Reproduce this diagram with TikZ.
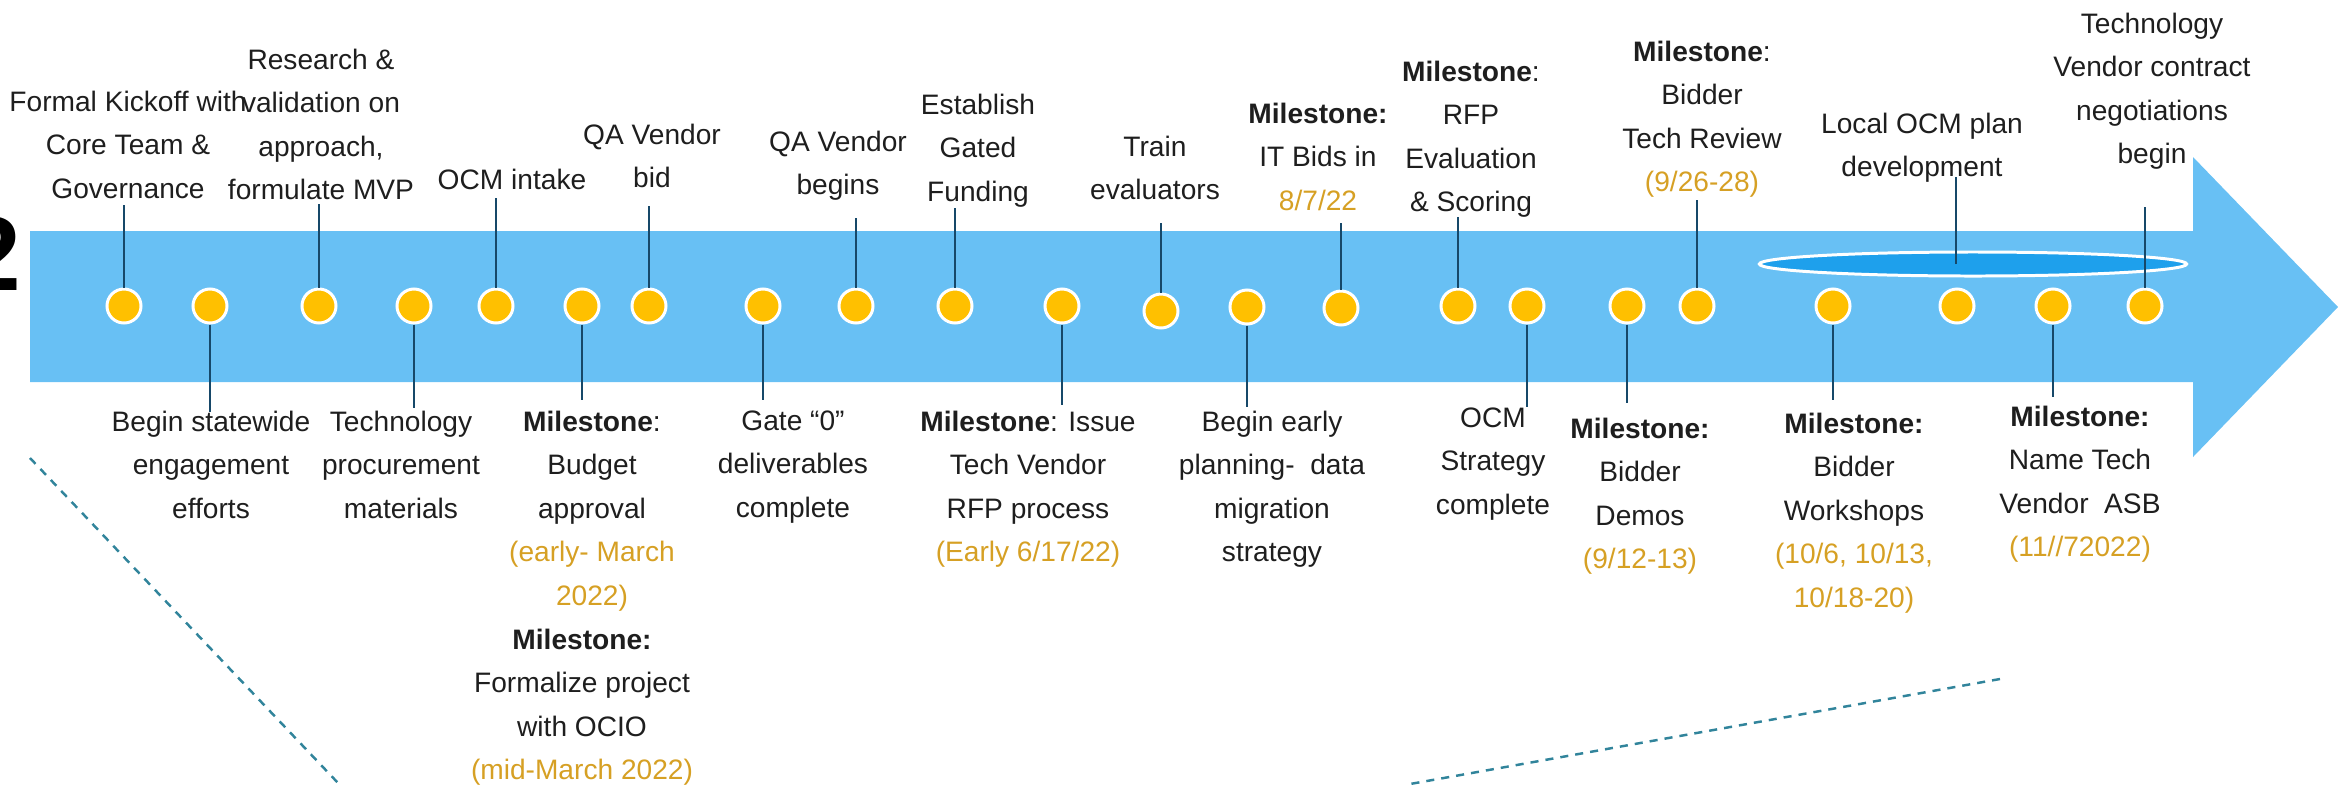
\documentclass[tikz,border=0pt]{standalone}
\usepackage{fontspec}
\setmainfont{Liberation Sans}
\usetikzlibrary{shapes.geometric}
\definecolor{bandblue}{RGB}{104,192,244}
\definecolor{ocmblue}{RGB}{30,160,236}
\definecolor{dotgold}{RGB}{255,192,0}
\definecolor{stemblue}{RGB}{22,72,105}
\definecolor{dategold}{RGB}{214,160,36}
\definecolor{zoomteal}{RGB}{49,132,155}
\definecolor{inkgray}{RGB}{30,30,30}
\tikzset{
  tickdot/.style={circle, fill=dotgold, draw=white, line width=0.85pt, minimum size=0.34cm, inner sep=0pt},
  stem/.style={draw=stemblue, line width=0.6pt},
  lbl/.style={anchor=north, align=center, inner sep=0pt, text=inkgray, font=\fontsize{8pt}{12.38pt}\selectfont},
  zoomline/.style={draw=zoomteal, line width=0.7pt, dash pattern=on 2.3pt off 2pt}
}
\newcommand{\dte}[1]{\textcolor{dategold}{#1}}
\newcommand{\ms}{\textbf{Milestone}}
\begin{document}
\begin{tikzpicture}[x=0.01cm, y=-0.01cm]
        \useasboundingbox (0,0) rectangle (2338,784);
        \clip (0,0) rectangle (2338,784);
        %% year, cut off at the left
        \node[anchor=base east, inner sep=0pt, font=\fontsize{30pt}{30pt}\selectfont\bfseries] (yr) at (22,290) {2};
        %% band and arrow head
        \fill[bandblue] (30,231) -- (2193,231) -- (2193,157) -- (2338,307) -- (2193,457) -- (2193,382) -- (30,382) -- cycle;
        \node[ellipse, fill=ocmblue, draw=white, line width=0.85pt, minimum width=4.27cm, minimum height=0.24cm, inner sep=0pt] (ocm) at (1973,264) {};
        %% zoom lines
        \draw[zoomline] (30,458) -- (339,784);
        \draw[zoomline] (2000,679) -- (1410,784);
        %% dots
        \foreach \n/\x/\y in {1/124/306, 2/210/306, 3/319/306, 4/414/306, 5/496/306, 6/582/306,
                7/649/306, 8/763/306, 9/856/306, 10/955/306, 11/1062/306, 12/1161/311,
                13/1247/307, 14/1341/308, 15/1458/306, 16/1527/306, 17/1627/306, 18/1697/306,
                19/1833/306, 20/1957/306, 21/2053/306, 22/2145/306}
            \node[tickdot] (d\n) at (\x,\y) {};
        %% connectors
        \foreach \n/\y in {1/205, 2/412, 3/204, 4/408, 5/198, 6/400, 7/206, 8/400, 9/218, 10/208,
                11/405, 12/223, 13/407, 14/223, 15/217, 16/407, 17/403, 18/200, 19/400, 21/397, 22/207} {
            \coordinate (e\n) at (d\n |- 0,\y);
            \draw[stem] (d\n) -- (e\n);
        }
        \coordinate (e20) at (1956,177);
        \draw[stem] (e20 |- ocm.center) -- (e20);
        %% labels above
        \node[lbl] (t1) at (128,90) {Formal Kickoff with\\Core Team \&\\Governance};
        \node[lbl] (t3) at (321,48) {Research \&\\validation on\\approach,\\formulate MVP};
        \node[lbl] (t5) at (512,168) {OCM intake};
        \node[lbl] (t7) at (652,123) {QA Vendor\\bid};
        \node[lbl] (t9) at (838,130) {QA Vendor\\begins};
        \node[lbl] (t10) at (978,93) {Establish\\Gated\\Funding};
        \node[lbl] (t12) at (1155,135) {Train\\evaluators};
        \node[lbl] (t14) at (1318,102) {\textbf{Milestone:}\\IT Bids in\\\dte{8/7/22}};
        \node[lbl] (t15) at (1471,60) {\ms:\\RFP\\Evaluation\\\& Scoring};
        \node[lbl] (t18) at (1702,40) {\ms:\\Bidder\\Tech Review\\\dte{(9/26-28)}};
        \node[lbl] (t20) at (1922,112) {Local OCM plan\\development};
        \node[lbl] (t22) at (2152,12) {Technology\\Vendor contract\\negotiations\\begin};
        %% labels below
        \node[lbl] (t2) at (211,410) {Begin statewide\\engagement\\efforts};
        \node[lbl] (t4) at (401,410) {Technology\\procurement\\materials};
        \node[lbl] (t6) at (592,410) {\ms:\\Budget\\approval\\\dte{(early- March}\\\dte{2022)}};
        \node[lbl] (t6b) at (582,628) {\textbf{Milestone:}\\Formalize project\\with OCIO\\\dte{(mid-March 2022)}};
        \node[lbl] (t8) at (793,410) {Gate “0”\\deliverables\\complete};
        \node[lbl] (t11) at (1028,410) {\ms: Issue\\Tech Vendor\\RFP process\\\dte{(Early 6/17/22)}};
        \node[lbl] (t13) at (1272,410) {Begin early\\planning-~ data\\migration\\strategy};
        \node[lbl] (t16) at (1493,407) {OCM\\Strategy\\complete};
        \node[lbl] (t17) at (1640,417) {\textbf{Milestone:}\\Bidder\\Demos\\\dte{(9/12-13)}};
        \node[lbl] (t19) at (1854,412) {\textbf{Milestone:}\\Bidder\\Workshops\\\dte{(10/6, 10/13,}\\\dte{10/18-20)}};
        \node[lbl] (t21) at (2080,405) {\textbf{Milestone:}\\Name Tech\\Vendor~ ASB\\\dte{(11//72022)}};
\end{tikzpicture}
\end{document}
